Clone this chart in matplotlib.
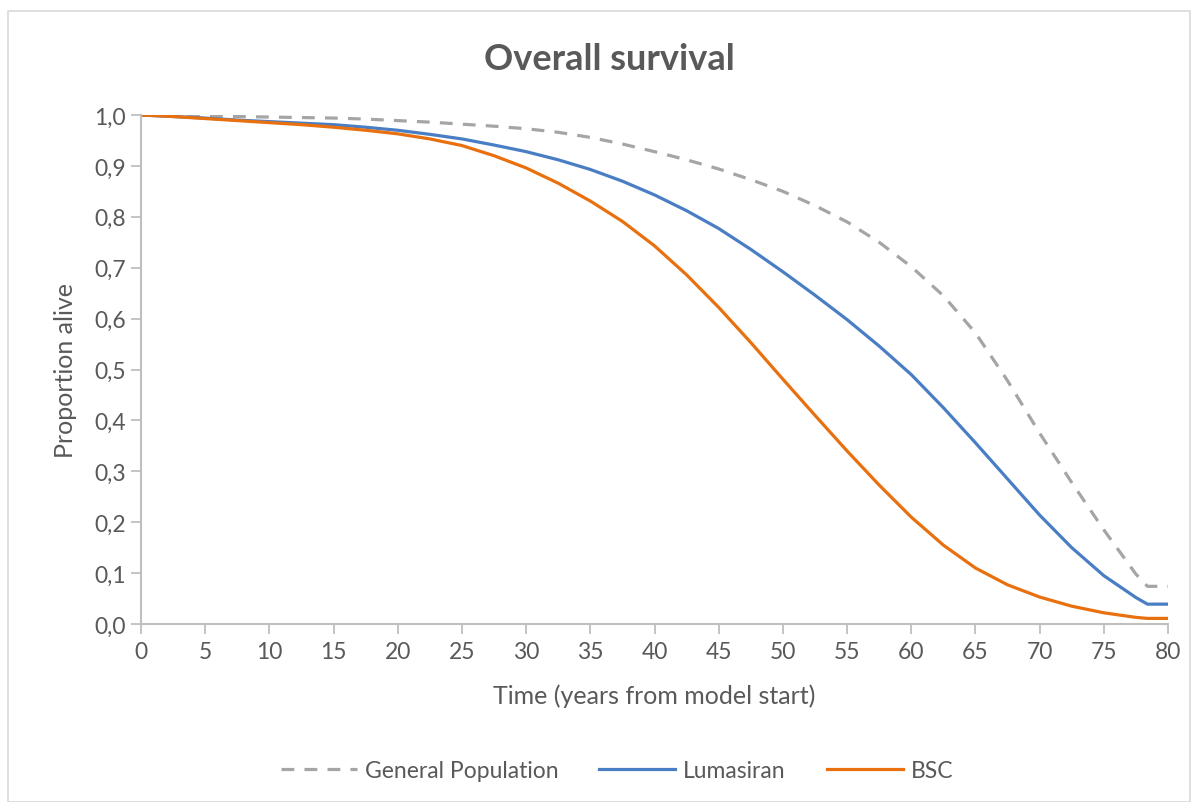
import matplotlib
matplotlib.use("Agg")
import matplotlib.pyplot as plt
from matplotlib.patches import Rectangle
from matplotlib.ticker import FuncFormatter, MultipleLocator

# Survival curves (proportion alive vs years from model start)
years = [0, 2.5, 5, 7.5, 10, 12.5, 15, 17.5, 20, 22.5, 25, 27.5, 30, 32.5,
         35, 37.5, 40, 42.5, 45, 47.5, 50, 52.5, 55, 57.5, 60, 62.5, 65,
         67.5, 70, 72.5, 75, 77.5, 78.4, 80]

general_population = [1.000, 0.999, 0.998, 0.997, 0.996, 0.995, 0.994, 0.992,
                      0.989, 0.986, 0.982, 0.978, 0.973, 0.966, 0.956, 0.943,
                      0.928, 0.912, 0.894, 0.873, 0.850, 0.822, 0.790, 0.750,
                      0.702, 0.645, 0.572, 0.478, 0.375, 0.278, 0.185, 0.098,
                      0.074, 0.074]

lumasiran = [1.000, 0.997, 0.994, 0.990, 0.987, 0.984, 0.981, 0.976,
             0.970, 0.962, 0.953, 0.941, 0.928, 0.912, 0.893, 0.870,
             0.843, 0.812, 0.777, 0.736, 0.692, 0.646, 0.598, 0.546,
             0.490, 0.425, 0.356, 0.285, 0.214, 0.150, 0.095, 0.052,
             0.039, 0.039]

bsc = [1.000, 0.997, 0.993, 0.989, 0.985, 0.981, 0.976, 0.970,
       0.963, 0.953, 0.940, 0.920, 0.896, 0.866, 0.831, 0.791,
       0.743, 0.686, 0.622, 0.553, 0.481, 0.410, 0.340, 0.273,
       0.210, 0.155, 0.110, 0.077, 0.053, 0.035, 0.022, 0.013,
       0.011, 0.011]

x_ticks = list(range(0, 81, 5))

text_color = "#595959"
axis_color = "#BFBFBF"
plt.rcParams["font.family"] = ["Lato", "DejaVu Sans"]

fig = plt.figure(figsize=(11.98, 8.03), dpi=100)
fig.patch.set_facecolor("white")

# Chart-area frame
fig.patches.append(Rectangle((8 / 1198, 0.0), 1182 / 1198, 1 - 12 / 803,
                             transform=fig.transFigure, fill=False,
                             edgecolor="#D9D9D9", linewidth=1.2))

ax = fig.add_axes([141 / 1198, 1 - 625 / 803, (1168 - 141) / 1198, (625 - 116) / 803])

ax.plot(years, general_population, color="#A5A5A5", lw=2.3,
        linestyle=(0, (4, 3.2)), label="General Population", solid_capstyle="butt")
ax.plot(years, lumasiran, color="#4A7EC4", lw=2.3, label="Lumasiran")
ax.plot(years, bsc, color="#E8700E", lw=2.3, label="BSC")

ax.set_xlim(0, 80)
ax.set_ylim(0, 1.0)
ax.set_xticks(x_ticks)
ax.yaxis.set_major_locator(MultipleLocator(0.1))
ax.yaxis.set_major_formatter(FuncFormatter(lambda v, p: f"{v:.1f}".replace(".", ",")))

for side in ("top", "right"):
    ax.spines[side].set_visible(False)
for side in ("left", "bottom"):
    ax.spines[side].set_color(axis_color)
    ax.spines[side].set_linewidth(1.5)

ax.tick_params(axis="both", colors=axis_color, width=1.3, length=7,
               labelcolor=text_color, labelsize=16.5, direction="out")
ax.tick_params(axis="x", pad=5)
ax.tick_params(axis="y", pad=4)

ax.set_xlabel("Time (years from model start)", color=text_color, fontsize=18, labelpad=16)
ax.set_ylabel("Proportion alive", color=text_color, fontsize=18, labelpad=12)

fig.text(0.509, 1 - 60 / 803, "Overall survival", ha="center", va="center",
         fontsize=26, fontweight="bold", color=text_color)

leg = fig.legend(loc="center", bbox_to_anchor=(0.515, 1 - 772 / 803), ncol=3,
                 frameon=False, fontsize=16.5, handlelength=3.3,
                 handletextpad=0.35, columnspacing=1.8)
for t in leg.get_texts():
    t.set_color(text_color)

fig.savefig("out.png", dpi=100, facecolor="white")
